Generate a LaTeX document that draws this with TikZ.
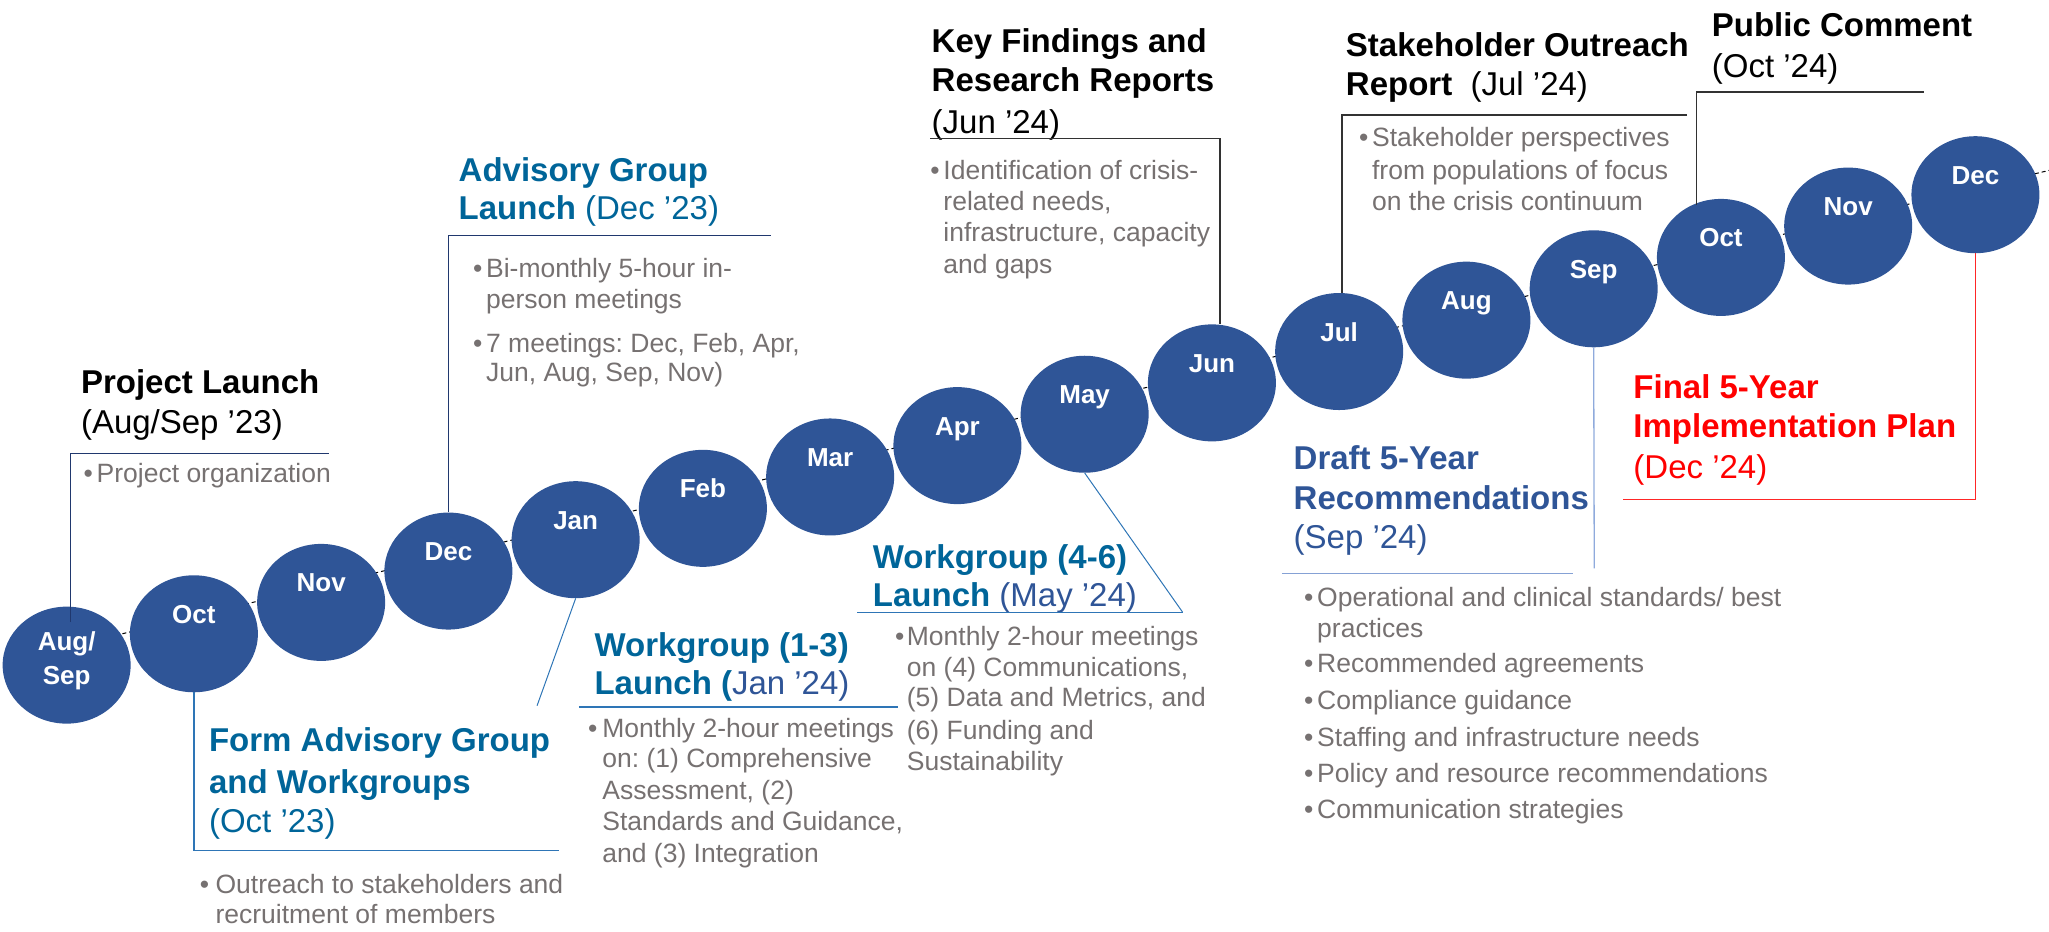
\documentclass[tikz,border=0pt]{standalone}
\usepackage{fontspec}
\setmainfont{Liberation Sans}
\usetikzlibrary{shapes.geometric}
\frenchspacing

\definecolor{circblue}{RGB}{47,85,151}
\definecolor{tlblue}{RGB}{0,101,153}
\definecolor{indigo}{RGB}{47,85,151}
\definecolor{bulgray}{RGB}{118,113,113}
\definecolor{navyline}{RGB}{32,56,110}
\definecolor{midline}{RGB}{46,117,182}
\definecolor{paleline}{RGB}{143,170,220}
\definecolor{darkline}{RGB}{50,50,50}

\newcommand{\ttlfont}{\fontsize{33}{40}\selectfont\bfseries}
\newcommand{\bulfont}{\fontsize{26.5}{31}\selectfont}
\newcommand{\monfont}{\fontsize{26}{30}\selectfont\bfseries}

\begin{document}
\begin{tikzpicture}[x=1.3068pt,y=-1.3068pt,
  txt/.style={anchor=base west,inner sep=0pt,outer sep=0pt},
  ttl/.style={txt,font=\ttlfont},
  bul/.style={txt,font=\bulfont,text=bulgray},
  month/.style={ellipse,fill=circblue,minimum width=128pt,minimum height=117pt,inner sep=0pt},
  mlab/.style={anchor=base,inner sep=0pt,text=white,font=\monfont},
  callout/.style={line width=1.3pt},
  trail/.style={line width=1pt,black,dash pattern=on 4pt off 3pt}]

\useasboundingbox (0,0) rectangle (1568,713);

% dashed trail running behind the month circles
\coordinate (trailA) at (52,495);
\coordinate (trailB) at (1568,130.4);
\draw[trail] (trailA) -- (trailB);

% month circles
\node[month] (m0) at (51,509) {};
\node[mlab] (l0a) at (51,498) {Aug/};
\node[mlab] (l0b) at (51,524) {Sep};
\foreach \i/\lab in {1/Oct,2/Nov,3/Dec,4/Jan,5/Feb,6/Mar,7/Apr,8/May,9/Jun,10/Jul,11/Aug,12/Sep,13/Oct,14/Nov,15/Dec}{
  \pgfmathsetmacro{\cx}{51+\i*97.38}
  \pgfmathsetmacro{\cy}{509-\i*24}
  \node[month] (m\i) at (\cx,\cy) {};
  \node[mlab] (l\i) at (\cx,\cy-8) {\lab};
}

% ---- Project Launch
\node[ttl] (plt1) at (62,301) {Project Launch};
\node[ttl,font=\fontsize{33}{40}\selectfont] (plt2) at (62,332) {(Aug/Sep ’23)};
\node[bul] (plb0) at (64,369) {•};
\node[bul] (plb1) at (74,369) {Project organization};
\coordinate (plEnd) at (54,476);
\coordinate (plH) at (252,347);
\draw[callout,navyline] (plEnd) |- (plH);

% ---- Form Advisory Group and Workgroups
\node[ttl,text=tlblue] (fat1) at (160,575) {Form Advisory Group};
\node[ttl,text=tlblue] (fat2) at (160,607) {and Workgroups};
\node[ttl,text=tlblue,font=\fontsize{33}{40}\selectfont] (fat3) at (160,637) {(Oct ’23)};
\node[bul] (fab0) at (153,684) {•};
\node[bul] (fab1) at (165,684) {Outreach to stakeholders and};
\node[bul] (fab2) at (165,707) {recruitment of members};
\coordinate (faH) at (428,651);
\draw[callout,midline] (m1.south) |- (faH);

% ---- Advisory Group Launch
\node[ttl,text=tlblue] (agt1) at (351,139) {Advisory Group};
\node[ttl,text=tlblue] (agt2) at (351,168) {Launch\mdseries\ (Dec ’23)};
\node[bul] (agb0) at (362,212) {•};
\node[bul] (agb1) at (372,212) {Bi-monthly 5-hour in-};
\node[bul] (agb2) at (372,236) {person meetings};
\node[bul] (agb3) at (362,270) {•};
\node[bul] (agb4) at (372,270) {7 meetings: Dec, Feb, Apr,};
\node[bul] (agb5) at (372,292) {Jun, Aug, Sep, Nov)};
\coordinate (agH) at (590,180);
\draw[callout,navyline] (m3.north) |- (agH);

% ---- Workgroup (1-3) Launch
\node[ttl,text=tlblue] (w1t1) at (455,502.6) {Workgroup (1-3)};
\node[ttl,text=tlblue] (w1t2) at (455,531.6) {Launch (\mdseries\color{indigo}Jan ’24)};
\node[bul] (w1b0) at (450,564) {•};
\node[bul] (w1b1) at (461,564) {Monthly 2-hour meetings};
\node[bul] (w1b2) at (461,587.7) {on: (1) Comprehensive};
\node[bul] (w1b3) at (461,611.5) {Assessment, (2)};
\node[bul] (w1b4) at (461,635.8) {Standards and Guidance,};
\node[bul] (w1b5) at (461,660) {and (3) Integration};
\coordinate (w1D) at (411,540);
\coordinate (w1L) at (443,541);
\coordinate (w1R) at (687,541);
\draw[callout,midline,line width=1pt] (m4.south) -- (w1D);
\draw[callout,midline] (w1L) -- (w1R);

% ---- Workgroup (4-6) Launch
\node[ttl,text=tlblue] (w2t1) at (668,435) {Workgroup (4-6)};
\node[ttl,text=tlblue] (w2t2) at (668,464) {Launch\mdseries\color{indigo}\ (May ’24)};
\node[bul] (w2b0) at (685,493.7) {•};
\node[bul] (w2b1) at (694,493.7) {Monthly 2-hour meetings};
\node[bul] (w2b2) at (694,518) {on (4) Communications,};
\node[bul] (w2b3) at (694,541) {(5) Data and Metrics, and};
\node[bul] (w2b4) at (694,565.6) {(6) Funding and};
\node[bul] (w2b5) at (694,589.8) {Sustainability};
\coordinate (w2R) at (905,468.5);
\coordinate (w2L) at (656,468.5);
\draw[callout,midline,line width=1pt] (m8.south) -- (w2R);
\draw[callout,midline] (w2R) -- (w2L);

% ---- Key Findings and Research Reports
\node[ttl] (kft1) at (713,40) {Key Findings and};
\node[ttl] (kft2) at (713,70) {Research Reports};
\node[ttl,font=\fontsize{33}{40}\selectfont] (kft3) at (713,102) {(Jun ’24)};
\node[bul] (kfb0) at (712,137) {•};
\node[bul] (kfb1) at (722,137) {Identification of crisis-};
\node[bul] (kfb2) at (722,161) {related needs,};
\node[bul] (kfb3) at (722,185) {infrastructure, capacity};
\node[bul] (kfb4) at (722,209) {and gaps};
\coordinate (kfL) at (712,106);
\coordinate (kfX) at (933.5,106);
\draw[callout,darkline] (kfL) -| (m9.north -| kfX);

% ---- Stakeholder Outreach Report
\node[ttl] (sot1) at (1030,43) {Stakeholder Outreach};
\node[ttl] (sot2) at (1030,73) {Report\mdseries\ \ (Jul ’24)};
\node[bul] (sob0) at (1040,112) {•};
\node[bul] (sob1) at (1050,112) {Stakeholder perspectives};
\node[bul] (sob2) at (1050,137) {from populations of focus};
\node[bul] (sob3) at (1050,161) {on the crisis continuum};
\coordinate (soR) at (1291,88);
\coordinate (soX) at (1027,88);
\draw[callout,darkline] (soR) -| (m10.north -| soX);

% ---- Public Comment
\node[ttl] (pct1) at (1310,28) {Public Comment};
\node[ttl,font=\fontsize{33}{40}\selectfont] (pct2) at (1310,59) {(Oct ’24)};
\coordinate (pcR) at (1472,70.5);
\coordinate (pcB) at (1298,157);
\draw[callout,darkline] (pcR) -| (pcB);

% ---- Draft 5-Year Recommendations
\node[ttl,text=indigo] (drt1) at (990,359) {Draft 5-Year};
\node[ttl,text=indigo] (drt2) at (990,390) {Recommendations};
\node[ttl,text=indigo,font=\fontsize{33}{40}\selectfont] (drt3) at (990,420) {(Sep ’24)};
\node[bul] (drb0) at (998,464) {•};
\node[bul] (drb1) at (1008,464) {Operational and clinical standards/ best};
\node[bul] (drb2) at (1008,488) {practices};
\node[bul] (drb3) at (998,515) {•};
\node[bul] (drb4) at (1008,515) {Recommended agreements};
\node[bul] (drb5) at (998,543) {•};
\node[bul] (drb6) at (1008,543) {Compliance guidance};
\node[bul] (drb7) at (998,571) {•};
\node[bul] (drb8) at (1008,571) {Staffing and infrastructure needs};
\node[bul] (drb9) at (998,599) {•};
\node[bul] (drb10) at (1008,599) {Policy and resource recommendations};
\node[bul] (drb11) at (998,626) {•};
\node[bul] (drb12) at (1008,626) {Communication strategies};
\coordinate (drB) at (1220,435);
\coordinate (drL) at (981,439);
\coordinate (drR) at (1204,439);
\draw[callout,paleline] (m12.south) -- (drB);
\draw[callout,paleline!90!indigo] (drL) -- (drR);

% ---- Final 5-Year Implementation Plan
\node[ttl,text=red] (fpt1) at (1250,305) {Final 5-Year};
\node[ttl,text=red] (fpt2) at (1250,335) {Implementation Plan};
\node[ttl,text=red,font=\fontsize{33}{40}\selectfont] (fpt3) at (1250,366) {(Dec ’24)};
\coordinate (fpL) at (1242,382);
\draw[callout,red!85!white] (m15.south) |- (fpL);

\end{tikzpicture}
\end{document}
